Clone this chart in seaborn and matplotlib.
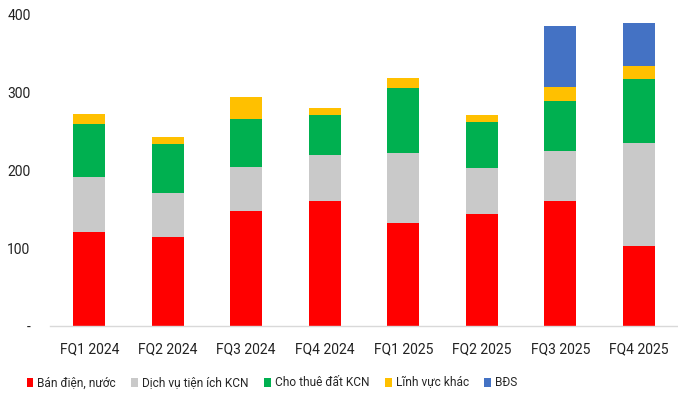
import matplotlib
matplotlib.use("Agg")
import matplotlib.pyplot as plt
import seaborn as sns
import numpy as np
import pandas as pd
from matplotlib.patches import Patch
from matplotlib import font_manager

categories = ["FQ1 2024", "FQ2 2024", "FQ3 2024", "FQ4 2024",
              "FQ1 2025", "FQ2 2025", "FQ3 2025", "FQ4 2025"]
ban_dien_nuoc = [121, 114, 147, 160, 132, 143, 160, 103]
dich_vu_kcn = [70, 57, 57, 59, 90, 59, 64, 131]
cho_thue_dat = [68, 62, 61, 52, 83, 59, 65, 83]
linh_vuc_khac = [13, 9, 29, 9, 13, 9, 18, 16]
bds = [0, 0, 0, 0, 0, 0, 77, 55]

series_names = ["Bán điện, nước", "Dịch vụ tiện ích KCN", "Cho thuê đất KCN",
                "Lĩnh vực khác", "BĐS"]
series_values = [ban_dien_nuoc, dich_vu_kcn, cho_thue_dat, linh_vuc_khac, bds]
colors = ["#FF0000", "#C9C9C9", "#00B050", "#FFC000", "#4472C4"]
yticks = [0, 100, 200, 300, 400]
ytick_labels = ["-", "100", "200", "300", "400"]

sns.set_theme(style="white")
avail = {f.name for f in font_manager.fontManager.ttflist}
fam = "Liberation Sans Narrow" if "Liberation Sans Narrow" in avail else "Roboto"
plt.rcParams["font.family"] = [fam, "DejaVu Sans"]

fig = plt.figure(figsize=(6.78, 3.96), dpi=100)
ax = fig.add_axes([50 / 678, 1 - 326 / 396, 628 / 678, 312 / 396])

cum = np.cumsum(np.array(series_values), axis=0)
for i in range(len(series_names) - 1, -1, -1):
    df = pd.DataFrame({"cat": categories, "val": cum[i]})
    sns.barplot(data=df, x="cat", y="val", color=colors[i], saturation=1,
                width=0.41, ax=ax, edgecolor="none", linewidth=0)

ax.set_xlim(-0.5, 7.5)
ax.set_ylim(0, 400)
ax.set_yticks(yticks)
ax.set_yticklabels(ytick_labels)
ax.set_xlabel("")
ax.set_ylabel("")
for s in ["top", "right", "left"]:
    ax.spines[s].set_visible(False)
ax.spines["bottom"].set_color("#D9D9D9")
ax.spines["bottom"].set_linewidth(1)
ax.tick_params(axis="both", length=0, labelsize=10, colors="#222222")
ax.tick_params(axis="x", pad=12)
ax.tick_params(axis="y", pad=14)
ax.grid(False)

handles = [Patch(facecolor=c, edgecolor="none") for c in colors]
fig.legend(handles, series_names, loc="center", bbox_to_anchor=(272 / 678, 1 - 383 / 396),
           ncol=5, frameon=False, fontsize=8.6, handlelength=0.55, handleheight=0.8,
           handletextpad=0.35, columnspacing=1.3, borderpad=0, borderaxespad=0)

fig.savefig("out.png", dpi=100)
